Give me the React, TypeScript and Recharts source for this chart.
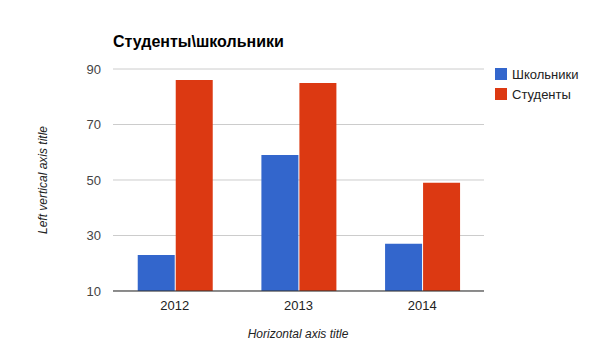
import { BarChart, Bar, XAxis, YAxis, CartesianGrid } from "recharts";

const years = ["2012", "2013", "2014"];
const schoolkids = [23, 59, 27];
const students = [86, 85, 49];
const yTicks = [10, 30, 50, 70, 90];

const series = [
  { key: "schoolkids", name: "Школьники", color: "#3366cc" },
  { key: "students", name: "Студенты", color: "#dc3912" },
];

const data = years.map((year, i) => ({
  year,
  schoolkids: schoolkids[i],
  students: students[i],
}));

const font = "'Liberation Sans', Arial, sans-serif";

export default function App() {
  return (
    <div style={{ position: "absolute", left: 0, top: 0, width: 595, height: 360, background: "#fff", fontFamily: font }}>
      <div style={{ position: "absolute", left: 113, top: 33, fontSize: 16, fontWeight: "bold", color: "#000" }}>
        Студенты\школьники
      </div>
      <div
        style={{
          position: "absolute",
          left: 43,
          top: 180,
          transform: "translate(-50%, -50%) rotate(-90deg)",
          fontSize: 12,
          fontStyle: "italic",
          color: "#222",
          whiteSpace: "nowrap",
        }}
      >
        Left vertical axis title
      </div>
      <div
        style={{
          position: "absolute",
          left: 298,
          top: 334,
          transform: "translate(-50%, -50%)",
          fontSize: 12,
          fontStyle: "italic",
          color: "#222",
          whiteSpace: "nowrap",
        }}
      >
        Horizontal axis title
      </div>
      <div style={{ position: "absolute", left: 495, top: 64, fontSize: 13, color: "#222" }}>
        {series.map((s) => (
          <div key={s.key} style={{ display: "flex", alignItems: "center", height: 20 }}>
            <span style={{ display: "inline-block", width: 12, height: 12, background: s.color, marginRight: 5 }} />
            {s.name}
          </div>
        ))}
      </div>
      <BarChart
        width={595}
        height={360}
        data={data}
        margin={{ top: 69, right: 111, bottom: 69, left: 53 }}
        barCategoryGap="20%"
        barGap={1}
        style={{ position: "absolute", left: 0, top: 0 }}
      >
        <CartesianGrid vertical={false} stroke="#cccccc" />
        <XAxis
          dataKey="year"
          height={0.0001}
          tickLine={false}
          axisLine={{ stroke: "#333333" }}
          tick={{ fill: "#222222", fontSize: 13, fontFamily: font }}
          tickMargin={4}
        />
        <YAxis
          width={60}
          domain={[10, 90]}
          ticks={yTicks}
          axisLine={false}
          tickLine={false}
          tick={{ fill: "#444444", fontSize: 13, fontFamily: font }}
          tickMargin={6}
        />
        {series.map((s) => (
          <Bar key={s.key} dataKey={s.key} name={s.name} fill={s.color} isAnimationActive={false} />
        ))}
      </BarChart>
    </div>
  );
}
